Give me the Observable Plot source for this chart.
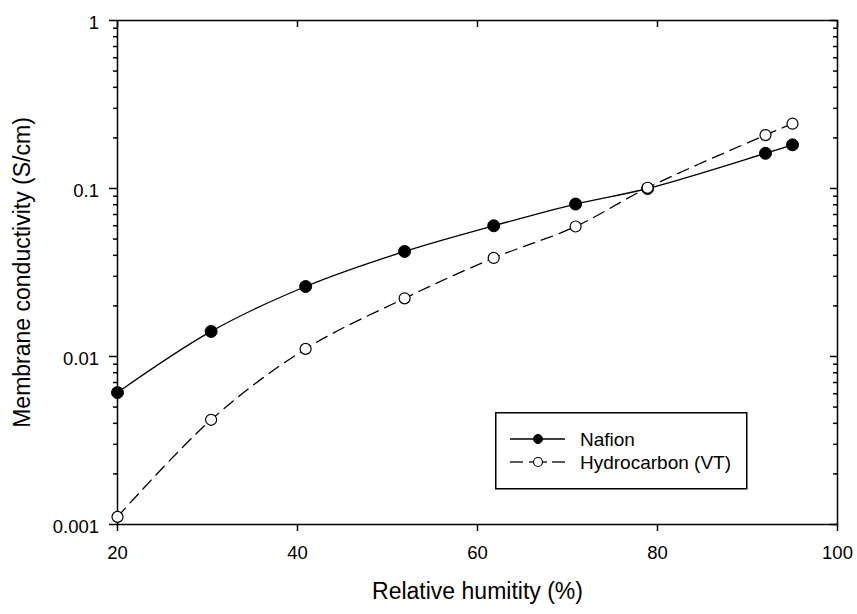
<!DOCTYPE html>
<html>
<head>
<meta charset="utf-8">
<script src="https://cdn.jsdelivr.net/npm/d3@7"></script>
<script src="https://cdn.jsdelivr.net/npm/@observablehq/plot@0.6"></script>
<style>
  html, body { margin: 0; padding: 0; background: #fff; }
  #wrap { position: relative; width: 857px; height: 614px; font-family: "Liberation Sans", Arial, sans-serif; color: #000; }
  #legend { position: absolute; left: 495px; top: 412px; }
</style>
</head>
<body>
<div id="wrap"></div>
<script>
// ---- data ----
const humidity = [20, 30.4, 40.9, 51.9, 61.8, 70.9, 78.9, 92.0, 95.0];
const nafion = [0.0061, 0.0141, 0.0261, 0.0422, 0.060, 0.0808, 0.100, 0.162, 0.182];
const hydrocarbon = [0.00111, 0.0042, 0.0111, 0.0222, 0.0386, 0.0594, 0.101, 0.208, 0.243];
const seriesNames = ["Nafion", "Hydrocarbon (VT)"];
const xTicks = [20, 40, 60, 80, 100];
const xTickLabels = ["20", "40", "60", "80", "100"];
const yTicks = [0.001, 0.01, 0.1, 1];
const yTickLabels = ["0.001", "0.01", "0.1", "1"];
const xTitle = "Relative humitity (%)";
const yTitle = "Membrane conductivity (S/cm)";

const yMinor = [];
for (let e = -3; e < 0; e++) for (let m = 2; m <= 9; m++) yMinor.push(m * Math.pow(10, e));

const nafionData = humidity.map((h, i) => ({x: h, y: nafion[i]}));
const hydroData = humidity.map((h, i) => ({x: h, y: hydrocarbon[i]}));

const blank = () => "";
const font = '"Liberation Sans", Arial, sans-serif';
const chart = Plot.plot({
  width: 857,
  height: 614,
  marginLeft: 117,
  marginRight: 20,
  marginTop: 20,
  marginBottom: 90,
  style: {fontFamily: font, fontSize: "18px", color: "#000", background: "#fff"},
  x: {domain: [20, 100]},
  y: {type: "log", domain: [0.001, 1]},
  marks: [
    // left axis ticks (outward)
    Plot.axisY(yMinor, {anchor: "left", tickSize: 4, strokeWidth: 1.5, tickFormat: blank, label: null}),
    Plot.axisY(yTicks, {anchor: "left", tickSize: 8, strokeWidth: 1.5, tickFormat: blank, label: null}),
    // right axis ticks (inward)
    Plot.axisY(yMinor, {anchor: "left", frameAnchor: "right", tickSize: 4, strokeWidth: 1.5, tickFormat: blank, label: null}),
    Plot.axisY(yTicks, {anchor: "left", frameAnchor: "right", tickSize: 7, strokeWidth: 1.5, tickFormat: blank, label: null}),
    // top axis ticks (inward)
    Plot.axisX(xTicks, {anchor: "bottom", frameAnchor: "top", tickSize: 7, strokeWidth: 1.5, tickFormat: blank, label: null}),
    // bottom axis ticks (outward)
    Plot.axisX(xTicks, {anchor: "bottom", tickSize: 7, strokeWidth: 1.5, tickFormat: blank, label: null}),
    Plot.frame({stroke: "#000", strokeWidth: 1.5}),
    // tick labels
    Plot.text(yTicks, {y: d => d, text: (d, i) => yTickLabels[i], frameAnchor: "left", textAnchor: "end",
      dx: -18.5, dy: 2.5, fontSize: 18.5, fill: "#000"}),
    Plot.text(xTicks, {x: d => d, text: (d, i) => xTickLabels[i], frameAnchor: "bottom",
      dy: 34, fontSize: 18.5, fill: "#000"}),
    // axis titles
    Plot.text([yTitle], {text: d => d, frameAnchor: "left", textAnchor: "middle", rotate: -90, dx: -95, fontSize: 23, fill: "#000"}),
    Plot.text([xTitle], {text: d => d, frameAnchor: "bottom", textAnchor: "middle", dy: 74, fontSize: 23, fill: "#000"}),
    // Nafion
    Plot.line(nafionData, {x: "x", y: "y", curve: "catmull-rom", stroke: "#000", strokeWidth: 1.3}),
    Plot.dot(nafionData, {x: "x", y: "y", r: 6, fill: "#000", stroke: "#000", strokeWidth: 1}),
    // Hydrocarbon
    Plot.line(hydroData, {x: "x", y: "y", curve: "catmull-rom", stroke: "#000", strokeWidth: 1.3, strokeDasharray: "12,7"}),
    Plot.dot(hydroData, {x: "x", y: "y", r: 5.5, fill: "#fff", stroke: "#000", strokeWidth: 1.2})
  ]
});
const wrap = document.getElementById("wrap");
wrap.appendChild(chart);

// legend
const ns = "http://www.w3.org/2000/svg";
const lg = document.createElementNS(ns, "svg");
lg.setAttribute("id", "legend");
lg.setAttribute("width", 253);
lg.setAttribute("height", 78);
lg.innerHTML = `
  <rect x="0.75" y="0.75" width="251" height="76" fill="#fff" stroke="#000" stroke-width="1.5"/>
  <line x1="15" x2="70" y1="27" y2="27" stroke="#000" stroke-width="1.3"/>
  <circle cx="43" cy="27" r="4.5" fill="#000" stroke="#000"/>
  <line x1="15" x2="28" y1="50" y2="50" stroke="#000" stroke-width="1.3"/>
  <line x1="57" x2="70" y1="50" y2="50" stroke="#000" stroke-width="1.3"/>
  <line x1="34" x2="38" y1="50" y2="50" stroke="#000" stroke-width="1.3"/>
  <line x1="48" x2="52" y1="50" y2="50" stroke="#000" stroke-width="1.3"/>
  <circle cx="43" cy="50" r="4.5" fill="#fff" stroke="#000" stroke-width="1.2"/>
  <text x="85" y="27" dy="0.35em" font-size="19" font-family='${font}'>${seriesNames[0]}</text>
  <text x="85" y="50" dy="0.35em" font-size="19" font-family='${font}'>${seriesNames[1]}</text>
`;
wrap.appendChild(lg);
</script>
</body>
</html>
